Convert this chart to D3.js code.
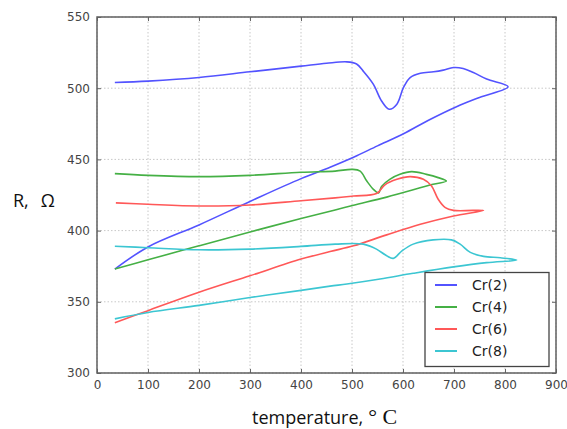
<!DOCTYPE html>
<html>
<head>
<meta charset="utf-8">
<script src="https://cdn.jsdelivr.net/npm/d3@7"></script>
<style>
  body { margin: 0; background: #fff; }
</style>
</head>
<body>
<script>
const width = 567;
const height = 429;
const margin = {top: 17, right: 11, bottom: 56, left: 97};

const xTicks = [0, 100, 200, 300, 400, 500, 600, 700, 800, 900];
const yTicks = [300, 350, 400, 450, 500, 550];
const seriesNames = ["Cr(2)", "Cr(4)", "Cr(6)", "Cr(8)"];
const seriesColors = ["#5353ff", "#45b045", "#ff5858", "#3cc6d2"];

// [temperature, R] along each loop
const cr2 = [[35,504],[100,505],[200,507.5],[300,511.5],[400,515.5],[450,517.5],[490,518.5],[509,517],
  [522,512],[542,502.7],[558,491],[573,485.2],[588,488.8],[601,500.5],[614,507.5],[634,510.5],
  [660,511.5],[679,512.7],[699,514.5],[718,513.8],[738,511],[764,506.4],[806,501],
  [750,493.5],[705,487],[650,477.5],[601,468],[550,459.5],[503,451.5],[457,444.5],[400,436.5],
  [300,420.5],[200,404],[100,388.5],[35,373]];
const cr4 = [[35,440],[100,438.8],[200,437.9],[300,438.8],[400,441],[467,441.8],[500,443],[516,441.8],
  [529,434.8],[542,429],[552,426.5],[558,431],[574,436],[594,439.5],[617,441.4],[646,439.5],
  [669,437.2],[685,434.8],[659,432.5],[568,423.5],[503,417.8],[467,414.5],[400,408.5],[300,399],
  [200,389.3],[100,379.5],[35,373]];
const cr6 = [[37,419.5],[100,418.5],[200,417.3],[300,418],[400,421],[467,423],[503,424.3],[548,426],
  [564,432],[588,436],[614,437.9],[640,436],[656,431.3],[669,422],[683,416.1],[699,414.2],[758,414.2],
  [699,410.3],[634,404.4],[568,397],[503,389.3],[457,385.3],[400,380],[300,368.3],[200,356.7],
  [100,343.8],[35,335.3]];
const cr8 = [[35,389],[100,388],[200,386.5],[300,387],[400,388.9],[467,390.5],[522,390.5],[548,387],
  [568,382.3],[581,380.5],[598,385.8],[620,390.5],[659,393.5],[695,393.5],[712,390.5],[732,384.7],
  [758,381.9],[791,380.9],[823,379.3],[764,377.5],[699,374.5],[620,370],[555,366],[490,362.5],
  [457,361],[400,358],[300,353],[200,347.5],[100,342.5],[35,338]];
const seriesData = [cr2, cr4, cr6, cr8];

const svg = d3.select("body").append("svg")
    .attr("width", width)
    .attr("height", height);

const x = d3.scaleLinear().domain([0, 900]).range([margin.left, width - margin.right]);
const y = d3.scaleLinear().domain([300, 550]).range([height - margin.bottom, margin.top]);

// Grid
const grid = svg.append("g");
xTicks.forEach(t => {
    grid.append("line")
        .attr("x1", x(t)).attr("x2", x(t))
        .attr("y1", y(300)).attr("y2", y(550))
        .attr("stroke", "#c8c8c8")
        .attr("stroke-dasharray", "1.5,2");
});
yTicks.forEach(t => {
    grid.append("line")
        .attr("x1", x(0)).attr("x2", x(900))
        .attr("y1", y(t)).attr("y2", y(t))
        .attr("stroke", "#c8c8c8")
        .attr("stroke-dasharray", "1.5,2");
});

// Curves
const line = d3.line()
    .x(d => x(d[0]))
    .y(d => y(d[1]))
    .curve(d3.curveCatmullRom.alpha(0.5));

seriesData.forEach((d, i) => {
    svg.append("path")
        .datum(d)
        .attr("d", line)
        .attr("fill", "none")
        .attr("stroke", seriesColors[i])
        .attr("stroke-width", 1.6);
});

// Axes (inward ticks, all sides)
const axBottom = svg.append("g")
    .attr("transform", `translate(0, ${y(300)})`)
    .call(d3.axisBottom(x).tickValues(xTicks).tickSizeInner(-4).tickSizeOuter(0).tickPadding(7));
const axLeft = svg.append("g")
    .attr("transform", `translate(${x(0)}, 0)`)
    .call(d3.axisLeft(y).tickValues(yTicks).tickSizeInner(-4).tickSizeOuter(0).tickPadding(7));
const axTop = svg.append("g")
    .attr("transform", `translate(0, ${y(550)})`)
    .call(d3.axisTop(x).tickValues(xTicks).tickSizeInner(-4).tickSizeOuter(0).tickFormat(""));
const axRight = svg.append("g")
    .attr("transform", `translate(${x(900)}, 0)`)
    .call(d3.axisRight(y).tickValues(yTicks).tickSizeInner(-4).tickSizeOuter(0).tickFormat(""));

[axBottom, axLeft, axTop, axRight].forEach(g => {
    g.select(".domain").remove();
    g.selectAll(".tick line").attr("stroke", "#666");
    g.selectAll(".tick text")
        .style("font-family", "DejaVu Sans, sans-serif")
        .style("font-size", "12px")
        .attr("fill", "#444");
});

svg.append("rect")
    .attr("x", x(0)).attr("y", y(550))
    .attr("width", x(900) - x(0)).attr("height", y(300) - y(550))
    .attr("fill", "none")
    .attr("stroke", "#606060")
    .attr("stroke-width", 1.5);

// Axis labels
const ylab = svg.append("text")
    .attr("x", 13).attr("y", 207)
    .style("font-family", "Open Sans, sans-serif")
    .style("font-size", "18px")
    .attr("fill", "#111");
ylab.append("tspan").text("R,");
ylab.append("tspan").attr("dx", 12).text("Ω");

const xlab = svg.append("text")
    .attr("x", 252).attr("y", 424)
    .style("font-family", "Open Sans, sans-serif")
    .style("font-size", "18px")
    .attr("fill", "#111");
xlab.append("tspan").text("temperature,");
xlab.append("tspan").attr("dx", 5)
    .style("font-family", "Liberation Serif, serif").style("font-size", "22px").text("° C");

// Legend
const legend = svg.append("g");
legend.append("rect")
    .attr("x", 425).attr("y", 272.5)
    .attr("width", 124).attr("height", 94)
    .attr("fill", "#fff")
    .attr("stroke", "#444")
    .attr("stroke-width", 1.3);
seriesNames.forEach((name, i) => {
    const ly = 285 + i * 22;
    legend.append("line")
        .attr("x1", 435).attr("x2", 457)
        .attr("y1", ly).attr("y2", ly)
        .attr("stroke", seriesColors[i])
        .attr("stroke-width", 2);
    legend.append("text")
        .attr("x", 472).attr("y", ly)
        .attr("dy", "0.36em")
        .style("font-family", "DejaVu Sans, sans-serif")
        .style("font-size", "14px")
        .attr("fill", "#222")
        .text(name);
});
</script>
</body>
</html>
